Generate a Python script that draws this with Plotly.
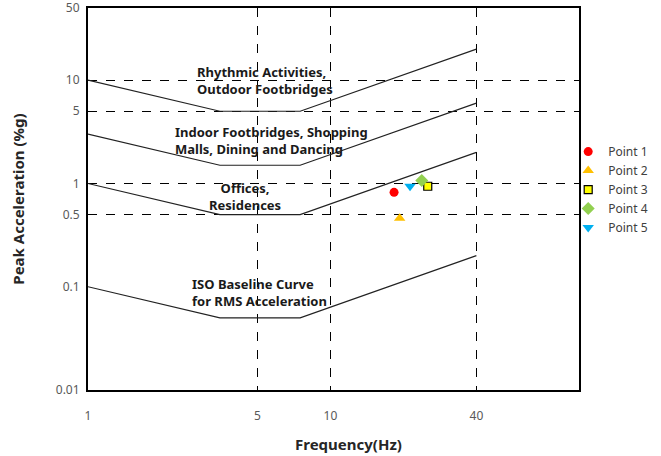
import math
import plotly.graph_objects as go

# ---------------- data ----------------
curve_freq = [1, 3.5, 7.5, 40]
rhythmic = [10, 5, 5, 20]
indoor = [3, 1.5, 1.5, 6]
offices = [1, 0.5, 0.5, 2]
iso_baseline = [0.1, 0.05, 0.05, 0.2]

point_names = ["Point 1", "Point 2", "Point 3", "Point 4", "Point 5"]
point_freq = [18.3, 19.3, 25.2, 23.8, 21.3]
point_acc = [0.82, 0.46, 0.94, 1.07, 0.94]

x_ticks = [1, 5, 10, 40]
y_ticks = [0.01, 0.1, 0.5, 1, 5, 10, 50]
y_grid = [0.5, 1, 5, 10]
x_grid = [5, 10, 40]

# ---------------- styles ----------------
FONT = "Noto Sans"
point_styles = [
    dict(symbol="circle", color="#FF0000", size=9, line=dict(width=0)),
    dict(symbol="triangle-up", color="#FFC000", size=10, line=dict(width=0)),
    dict(symbol="square", color="#FFFF00", size=8, line=dict(width=1.2, color="#000000")),
    dict(symbol="diamond", color="#92D050", size=10, line=dict(width=0)),
    dict(symbol="triangle-down", color="#00B0F0", size=10, line=dict(width=0)),
]

fig = go.Figure()

for ys in [rhythmic, indoor, offices, iso_baseline]:
    fig.add_trace(go.Scatter(
        x=curve_freq, y=ys, mode="lines",
        line=dict(color="#222222", width=1.2),
        showlegend=False, hoverinfo="skip",
    ))

for name, fx, ay, st in zip(point_names, point_freq, point_acc, point_styles):
    fig.add_trace(go.Scatter(
        x=[fx], y=[ay], mode="markers", name=name,
        marker=st,
    ))

ann_font = dict(family=FONT, size=13, color="#1a1a1a")
annotations = [
    dict(text="<b>Rhythmic Activities,<br>Outdoor Footbridges</b>", x=0.217, y=0.810,
         xanchor="left", yanchor="middle", align="left"),
    dict(text="<b>Indoor Footbridges, Shopping<br>Malls, Dining and Dancing</b>", x=0.1727, y=0.654,
         xanchor="left", yanchor="middle", align="left"),
    dict(text="<b>Offices,<br>Residences</b>", x=0.319, y=0.507,
         xanchor="center", yanchor="middle", align="center"),
    dict(text="<b>ISO Baseline Curve<br>for RMS Acceleration</b>", x=0.207, y=0.254,
         xanchor="left", yanchor="middle", align="left"),
]
for a in annotations:
    a.update(xref="paper", yref="paper", showarrow=False, font=ann_font)

annotations.append(dict(
    text="Frequency(Hz)", x=0.53, y=-0.141, xref="paper", yref="paper",
    xanchor="center", yanchor="middle", showarrow=False,
    font=dict(family=FONT, size=15, color="#262626", weight="bold"),
))

fig.update_layout(
    width=661, height=456,
    margin=dict(l=88, r=75, t=8, b=66),
    paper_bgcolor="white", plot_bgcolor="white",
    font=dict(family=FONT, size=12, color="#404040"),
    annotations=annotations,
    legend=dict(
        x=0.978, y=0.662, xanchor="left", yanchor="top",
        font=dict(family=FONT, size=12, color="#404040"),
        bgcolor="rgba(0,0,0,0)", tracegroupgap=0,
    ),
    xaxis=dict(
        type="log", range=[0, math.log10(106)], automargin=False,
        tickvals=x_ticks, ticktext=[str(v) for v in x_ticks],
        showgrid=False, ticks="", ticklabelstandoff=14, ticklabeloverflow="allow",
        tickfont=dict(family=FONT, size=12, color="#595959"),
        showline=True, linecolor="black", linewidth=2, mirror=True, zeroline=False,
        minor=dict(tickvals=x_grid, showgrid=True, griddash="dash",
                   gridcolor="black", gridwidth=1, ticks=""),
    ),
    yaxis=dict(
        type="log", range=[math.log10(0.01), math.log10(50) + 1e-9], automargin=False,
        tickvals=y_ticks, ticktext=[str(v) for v in y_ticks],
        showgrid=False, ticks="", ticklabelstandoff=4, ticklabeloverflow="allow",
        tickfont=dict(family=FONT, size=12, color="#595959"),
        showline=True, linecolor="black", linewidth=2, mirror=True, zeroline=False,
        minor=dict(tickvals=y_grid, showgrid=True, griddash="dash",
                   gridcolor="black", gridwidth=1, ticks=""),
        title=dict(text="Peak Acceleration (%g)", standoff=28,
                   font=dict(family=FONT, size=15, color="#262626", weight="bold")),
    ),
)

fig.write_html("out.html")
